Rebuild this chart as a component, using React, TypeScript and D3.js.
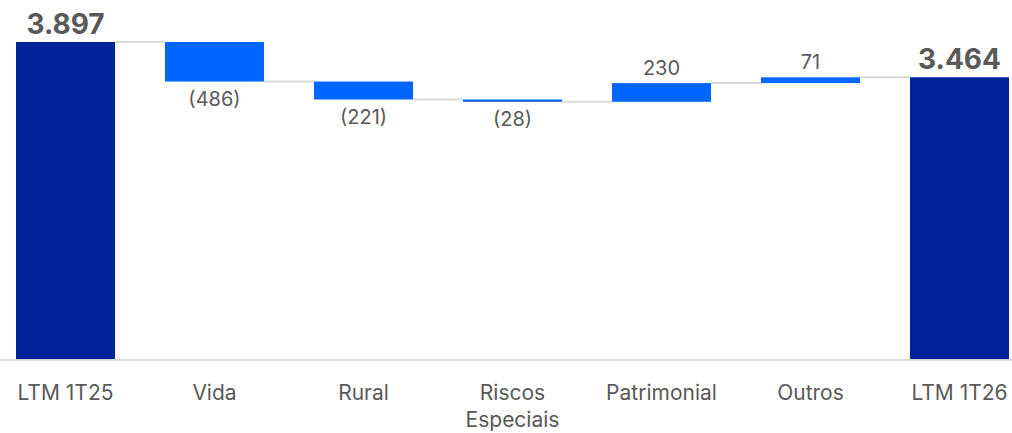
import * as React from 'react';
import * as d3 from 'd3';

const categories = ['LTM 1T25', 'Vida', 'Rural', 'Riscos Especiais', 'Patrimonial', 'Outros', 'LTM 1T26'];
const values = [3897, -486, -221, -28, 230, 71, 3464];
const kinds = ['total', 'delta', 'delta', 'delta', 'delta', 'delta', 'total'];

const width = 1012;
const height = 433;
const baseline = 359;
const topY = 42;

const fmtNum = (v: number) => d3.format(',')(v).replace(/,/g, '.');

export default function App() {
  const x = d3.scaleBand()
    .domain(categories)
    .range([16, 1009])
    .paddingInner(50 / 149)
    .paddingOuter(0);

  const y = d3.scaleLinear()
    .domain([0, 3897])
    .range([baseline, topY]);

  // build waterfall steps
  let running = 0;
  const steps = categories.map((c, i) => {
    const v = values[i];
    let start, end;
    if (kinds[i] === 'total') {
      start = 0;
      end = v;
    } else {
      start = running;
      end = running + v;
    }
    running = end;
    return { name: c, value: v, kind: kinds[i], start, end };
  });

  const bw = x.bandwidth();
  const font = 'Inter, "Noto Sans", sans-serif';
  const grey = '#595959';

  return (
    <svg width={width} height={height} style={{ position: 'absolute', left: 0, top: 0 }}>
      <rect width={width} height={height} fill="#fff" />
      {/* connectors */}
      {steps.slice(0, -1).map((d, i) => (
        <line key={'c' + i}
          x1={x(d.name)! + bw} x2={x(steps[i + 1].name)!}
          y1={y(d.end)} y2={y(d.end)}
          stroke="#d9d9d9" strokeWidth={2} />
      ))}
      <line x1={0} x2={width} y1={baseline + 1} y2={baseline + 1} stroke="#d9d9d9" strokeWidth={2} />
      {steps.map((d) => {
        const y0 = y(Math.max(d.start, d.end));
        const y1 = y(Math.min(d.start, d.end));
        const cx = x(d.name)! + bw / 2;
        const isTotal = d.kind === 'total';
        return (
          <g key={d.name}>
            <rect x={x(d.name)} y={y0} width={bw} height={Math.max(1, y1 - y0)}
              fill={isTotal ? '#00239c' : '#0066ff'} />
            {isTotal ? (
              <text x={cx} y={y0 - 8} textAnchor="middle" fontFamily={font}
                fontWeight="bold" fontSize={28} fill={grey}>{fmtNum(d.value)}</text>
            ) : d.value < 0 ? (
              <text x={cx} y={y1 + 8} dy="0.8em" textAnchor="middle" fontFamily={font}
                fontSize={20} fill={grey}>({fmtNum(-d.value)})</text>
            ) : (
              <text x={cx} y={y0 - 8} textAnchor="middle" fontFamily={font}
                fontSize={20} fill={grey}>{fmtNum(d.value)}</text>
            )}
            <text x={cx} y={400} textAnchor="middle" fontFamily={font} fontSize={21} fill={grey}>
              {d.name === 'Riscos Especiais'
                ? d.name.split(' ').map((w, j) => (
                  <tspan key={w} x={cx} dy={j === 0 ? 0 : 27}>{w}</tspan>
                ))
                : d.name}
            </text>
          </g>
        );
      })}
    </svg>
  );
}
